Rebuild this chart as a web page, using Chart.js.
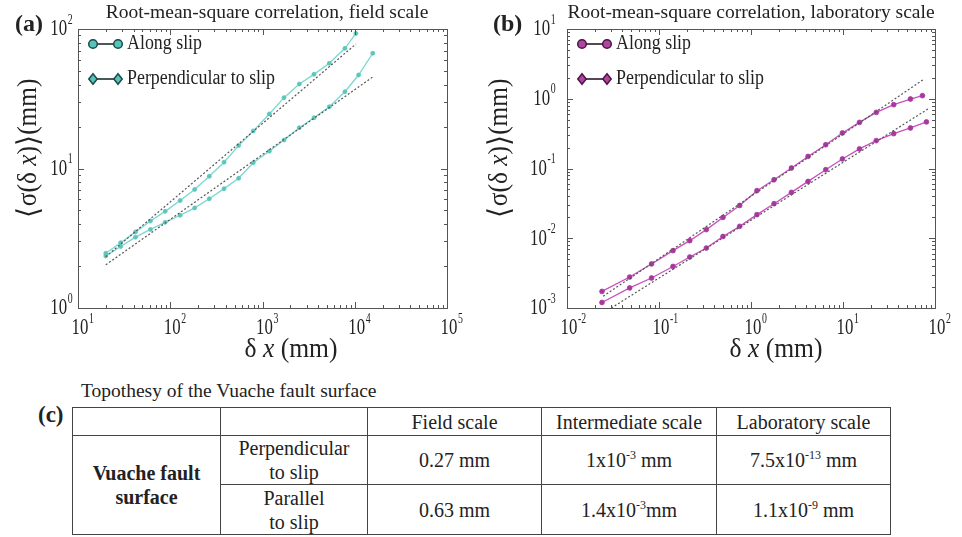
<!DOCTYPE html>
<html>
<head>
<meta charset="utf-8">
<script src="https://cdn.jsdelivr.net/npm/chart.js@4.4.1/dist/chart.umd.min.js"></script>
<style>
  html, body { margin: 0; padding: 0; background: #fff; }
  body { width: 962px; height: 537px; position: relative; overflow: hidden;
         font-family: "Liberation Serif", "Times New Roman", serif; color: #222; }
  canvas { position: absolute; top: 0; }
  #cvA { left: 0; }
  #cvB { left: 481px; }
  #capC { position: absolute; left: 81px; top: 379px; font-size: 19.5px; line-height: 24px; white-space: nowrap; }
  #labC { position: absolute; left: 38px; top: 402px; font-size: 23px; font-weight: bold; line-height: 26px; }
  #topo { position: absolute; left: 72px; top: 407px; border-collapse: collapse; table-layout: fixed; font-size: 20px; }
  #topo td { border: 1.5px solid #444; text-align: center; vertical-align: middle; padding: 0; line-height: 24px; white-space: nowrap; }
  #topo sup { font-size: 12px; vertical-align: 8px; line-height: 0; }
</style>
</head>
<body>
<canvas id="cvA" width="481" height="372"></canvas>
<canvas id="cvB" width="481" height="372"></canvas>
<div id="capC">Topothesy of the Vuache fault surface</div>
<div id="labC">(c)</div>
<table id="topo"></table>

<script>
// ---- Field scale: RMS correlation profiles (δx and σ in mm) ----
const fieldAlongDx = [20, 29, 42, 61, 88, 128, 184, 265, 383, 551, 794, 1186, 1710, 2506, 3614, 5297, 7830, 10300];
const fieldAlong   = [2.47, 2.94, 3.51, 4.20, 4.93, 5.89, 7.08, 8.79, 11.1, 14.6, 18.6, 24.6, 32.2, 40.3, 47.3, 56.8, 72.7, 93];
const fieldPerpDx  = [20, 29, 42, 61, 88, 128, 184, 265, 383, 551, 794, 1186, 1710, 2506, 3614, 5297, 7830, 11000, 15670];
const fieldPerp    = [2.36, 2.76, 3.22, 3.66, 4.11, 4.62, 5.22, 6.07, 7.17, 8.51, 11.0, 13.3, 16.0, 19.6, 23.1, 27.7, 35.5, 46.8, 67];
// power-law fits
const fieldFitAlongDx = [20, 10300];
const fieldFitAlong   = [2.33, 78];
const fieldFitPerpDx  = [20, 15900];
const fieldFitPerp    = [2.04, 45.6];

// ---- Laboratory scale ----
const labAlongDx = [0.024, 0.048, 0.083, 0.142, 0.216, 0.327, 0.496, 0.753, 1.16, 1.78, 2.75, 4.17, 6.49, 9.85, 15.1, 23.0, 35.6, 54.1, 73.0];
const labAlong   = [0.00173, 0.00278, 0.00428, 0.00664, 0.00923, 0.0133, 0.0199, 0.0295, 0.0481, 0.0690, 0.1016, 0.149, 0.219, 0.323, 0.458, 0.637, 0.822, 0.991, 1.107];
const labPerpDx  = [0.024, 0.048, 0.083, 0.142, 0.216, 0.327, 0.496, 0.753, 1.16, 1.78, 2.75, 4.17, 6.49, 9.85, 15.1, 23.0, 35.6, 54.1, 80.7];
const labPerp    = [0.00120, 0.00194, 0.00269, 0.00394, 0.00538, 0.00724, 0.0106, 0.0148, 0.0218, 0.0313, 0.0454, 0.0653, 0.0962, 0.137, 0.191, 0.251, 0.316, 0.381, 0.465];
const labFitAlongDx = [0.0247, 74.6];
const labFitAlong   = [0.00147, 1.88];
const labFitPerpDx  = [0.0303, 84];
const labFitPerp    = [0.0010, 0.713];

// ---- Axis decades (exponents of the labelled ticks) ----
const fieldXExp = [1, 2, 3, 4, 5];
const fieldYExp = [0, 1, 2];
const labXExp   = [-2, -1, 0, 1, 2];
const labYExp   = [-3, -2, -1, 0, 1];

const seriesNames = ['Along slip', 'Perpendicular to slip'];

// ---- Topothesy table ----
const scaleNames  = ['Field scale', 'Intermediate scale', 'Laboratory scale'];
const directionNames = [['Perpendicular', 'to slip'], ['Parallel', 'to slip']];
const topoPerp = [['0.27', null, ' mm'], ['1x10', '-3', ' mm'], ['7.5x10', '-13', ' mm']];
const topoPar  = [['0.63', null, ' mm'], ['1.4x10', '-3', 'mm'], ['1.1x10', '-9', ' mm']];

const SERIF = '"Liberation Serif", "Times New Roman", serif';

function pts(xs, ys) { return xs.map((x, i) => ({ x: x, y: ys[i] })); }

// "10" with a raised exponent, drawn in a narrow serif face
function powLabel(ctx, x, y, exp, mode) {
  const sx = 0.7;
  ctx.save();
  ctx.fillStyle = '#222';
  ctx.textBaseline = 'middle';
  ctx.textAlign = 'left';
  ctx.font = '24px ' + SERIF;
  const wBase = ctx.measureText('10').width * sx;
  ctx.font = '14px ' + SERIF;
  const e = String(exp);
  const wExp = ctx.measureText(e).width * sx;
  let left = mode === 'x' ? x - wBase / 2 + 2 : x - wBase - wExp - 1;
  ctx.translate(left, y);
  ctx.scale(sx, 1);
  ctx.font = '24px ' + SERIF;
  ctx.fillText('10', 0, 0);
  ctx.font = '14px ' + SERIF;
  ctx.fillText(e, wBase / sx + 1, -9);
  ctx.restore();
}

// draw a sequence of differently styled text runs, squeezed to a given width
function drawRuns(ctx, runs, cx, y, width) {
  let total = 0;
  runs.forEach(r => { ctx.font = r.font; r.w = ctx.measureText(r.t).width; total += r.w; });
  ctx.save();
  ctx.translate(cx - width / 2, y);
  ctx.scale(width / total, 1);
  let px = 0;
  runs.forEach(r => { ctx.font = r.font; ctx.fillText(r.t, px, r.dy || 0); px += r.w; });
  ctx.restore();
}

function squeezedText(ctx, text, x, y, font, width) {
  ctx.font = font;
  const w = ctx.measureText(text).width;
  ctx.save();
  ctx.translate(x, y);
  ctx.scale(width / w, 1);
  ctx.fillText(text, 0, 0);
  ctx.restore();
}

const framePlugin = {
  id: 'frame',
  afterDraw(chart, args, o) {
    const ctx = chart.ctx;
    const a = chart.chartArea;
    const sx = chart.scales.x, sy = chart.scales.y;
    ctx.save();
    // plot box
    ctx.strokeStyle = '#555';
    ctx.lineWidth = 1;
    ctx.strokeRect(Math.round(a.left) + 0.5, Math.round(a.top) + 0.5,
                   Math.round(a.right - a.left), Math.round(a.bottom - a.top));
    // log ticks on all four sides, pointing inward
    ctx.beginPath();
    const xe = o.xExp, ye = o.yExp;
    for (let e = xe[0]; e <= xe[xe.length - 1]; e++) {
      for (let m = 1; m <= 9; m++) {
        if (e === xe[xe.length - 1] && m > 1) break;
        const px = Math.round(sx.getPixelForValue(m * Math.pow(10, e))) + 0.5;
        const len = m === 1 ? 6 : 3;
        ctx.moveTo(px, a.bottom); ctx.lineTo(px, a.bottom - len);
        ctx.moveTo(px, a.top); ctx.lineTo(px, a.top + len);
      }
    }
    for (let e = ye[0]; e <= ye[ye.length - 1]; e++) {
      for (let m = 1; m <= 9; m++) {
        if (e === ye[ye.length - 1] && m > 1) break;
        const py = Math.round(sy.getPixelForValue(m * Math.pow(10, e))) + 0.5;
        const len = m === 1 ? 6 : 3;
        ctx.moveTo(a.left, py); ctx.lineTo(a.left + len, py);
        ctx.moveTo(a.right, py); ctx.lineTo(a.right - len, py);
      }
    }
    ctx.stroke();

    // tick labels
    xe.forEach(e => powLabel(ctx, sx.getPixelForValue(Math.pow(10, e)), a.bottom + 20, e, 'x'));
    ye.forEach(e => powLabel(ctx, a.left - o.yGap, sy.getPixelForValue(Math.pow(10, e)), e, 'y'));

    ctx.fillStyle = '#222';
    ctx.textBaseline = 'middle';
    // panel title
    ctx.font = '19.5px ' + SERIF;
    ctx.textAlign = 'center';
    ctx.fillText(o.title, o.titleX, 13);
    // panel letter
    ctx.font = 'bold 24px ' + SERIF;
    ctx.textAlign = 'left';
    ctx.fillText(o.letter, o.letterX, 25);

    // x axis title: δ x (mm)
    ctx.textBaseline = 'alphabetic';
    ctx.textAlign = 'left';
    drawRuns(ctx, [
      { t: 'δ ', font: '27px ' + SERIF },
      { t: 'x', font: 'italic 27px ' + SERIF },
      { t: ' (mm)', font: '27px ' + SERIF }
    ], o.xTitleX, 357, 93);

    // y axis title: ⟨σ(δ x)⟩(mm)
    ctx.save();
    ctx.translate(o.yTitleX, 148);
    ctx.rotate(-Math.PI / 2);
    ctx.textBaseline = 'middle';
    drawRuns(ctx, [
      { t: '⟨', font: '30px ' + SERIF, dy: 1 },
      { t: 'σ(δ ', font: '27px ' + SERIF },
      { t: 'x', font: 'italic 27px ' + SERIF },
      { t: ')', font: '27px ' + SERIF },
      { t: '⟩', font: '30px ' + SERIF, dy: 1 },
      { t: '(mm)', font: '27px ' + SERIF }
    ], 0, 0, 139);
    ctx.restore();

    // legend
    const lx1 = a.left + o.legX1, lx2 = a.left + o.legX2, tx = a.left + o.legTx;
    const legW = [75, 148];
    [44, 79].forEach((ly, i) => {
      ctx.strokeStyle = o.legLine;
      ctx.lineWidth = 1.6;
      ctx.beginPath(); ctx.moveTo(lx1, ly); ctx.lineTo(lx2, ly); ctx.stroke();
      [lx1, lx2].forEach(mx => {
        ctx.beginPath();
        if (i === 0) ctx.arc(mx, ly, 4.3, 0, Math.PI * 2);
        else { ctx.moveTo(mx, ly - 5.2); ctx.lineTo(mx + 4.2, ly); ctx.lineTo(mx, ly + 5.2); ctx.lineTo(mx - 4.2, ly); ctx.closePath(); }
        ctx.fillStyle = o.legFill; ctx.fill();
        ctx.strokeStyle = o.legEdge; ctx.lineWidth = 1.5; ctx.stroke();
      });
      ctx.fillStyle = '#222';
      ctx.textBaseline = 'middle';
      ctx.textAlign = 'left';
      squeezedText(ctx, seriesNames[i], tx, ly, '20px ' + SERIF, legW[i]);
    });
    ctx.restore();
  }
};

function curve(label, xs, ys, color, ptColor, style, r) {
  return { label: label, data: pts(xs, ys), borderColor: color, borderWidth: 1.3,
           pointStyle: style, pointRadius: r, pointBackgroundColor: ptColor, pointBorderColor: ptColor,
           pointBorderWidth: 0.8, tension: 0, fill: false };
}
function fit(xs, ys) {
  return { data: pts(xs, ys), borderColor: '#555', borderWidth: 1.2, borderDash: [2, 2],
           pointRadius: 0, tension: 0, fill: false };
}

function makeChart(id, datasets, xr, yr, pad, frame) {
  return new Chart(document.getElementById(id), {
    type: 'line',
    data: { datasets: datasets },
    options: {
      responsive: false, animation: false, devicePixelRatio: 1,
      layout: { padding: pad },
      scales: {
        x: { type: 'logarithmic', min: xr[0], max: xr[1], display: false },
        y: { type: 'logarithmic', min: yr[0], max: yr[1], display: false }
      },
      plugins: { legend: { display: false }, tooltip: { enabled: false }, frame: frame }
    },
    plugins: [framePlugin]
  });
}

const teal = '#7ad8d0', tealPt = '#5cc6bd';
makeChart('cvA', [
  fit(fieldFitAlongDx, fieldFitAlong),
  fit(fieldFitPerpDx, fieldFitPerp),
  curve(seriesNames[0], fieldAlongDx, fieldAlong, teal, tealPt, 'circle', 2),
  curve(seriesNames[1], fieldPerpDx, fieldPerp, teal, tealPt, 'circle', 2)
], [10, 1e5], [1, 100], { left: 78, right: 34, top: 29, bottom: 64 }, {
  xExp: fieldXExp, yExp: fieldYExp, yGap: 5,
  title: 'Root-mean-square correlation, field scale', titleX: 267,
  letter: '(a)', letterX: 15, xTitleX: 291, yTitleX: 29,
  legX1: 15, legX2: 40, legTx: 49,
  legFill: '#57c3bb', legEdge: '#1d4a47', legLine: '#1f2f2f'
});

const mag = '#c94fc0', magPt = '#a8389e';
makeChart('cvB', [
  fit(labFitAlongDx, labFitAlong),
  fit(labFitPerpDx, labFitPerp),
  curve(seriesNames[0], labAlongDx, labAlong, mag, magPt, 'circle', 2.4),
  curve(seriesNames[1], labPerpDx, labPerp, mag, magPt, 'circle', 2.4)
], [0.01, 100], [0.001, 10], { left: 86, right: 27, top: 29, bottom: 64 }, {
  xExp: labXExp, yExp: labYExp, yGap: 11,
  title: 'Root-mean-square correlation, laboratory scale', titleX: 270,
  letter: '(b)', letterX: 12, xTitleX: 295, yTitleX: 19,
  legX1: 15, legX2: 40, legTx: 49,
  legFill: '#b0479f', legEdge: '#4c1546', legLine: '#2a1a28'
});

// ---- build the topothesy table ----
(function () {
  const tbl = document.getElementById('topo');
  const widths = [148, 147, 174, 175, 174];
  const cg = document.createElement('colgroup');
  widths.forEach(w => { const c = document.createElement('col'); c.style.width = w + 'px'; cg.appendChild(c); });
  tbl.appendChild(cg);
  function val(v) {
    return v[1] === null ? v[0] + v[2] : v[0] + '<sup>' + v[1] + '</sup>' + v[2];
  }
  let h = '<tr style="height:28px"><td></td><td></td>' + scaleNames.map(s => '<td>' + s + '</td>').join('') + '</tr>';
  h += '<tr style="height:48px"><td rowspan="2"><b>Vuache fault<br>surface</b></td><td>' +
       directionNames[0].join('<br>') + '</td>' + topoPerp.map(v => '<td>' + val(v) + '</td>').join('') + '</tr>';
  h += '<tr style="height:50px"><td>' + directionNames[1].join('<br>') + '</td>' +
       topoPar.map(v => '<td>' + val(v) + '</td>').join('') + '</tr>';
  tbl.insertAdjacentHTML('beforeend', h);
})();
</script>
</body>
</html>
